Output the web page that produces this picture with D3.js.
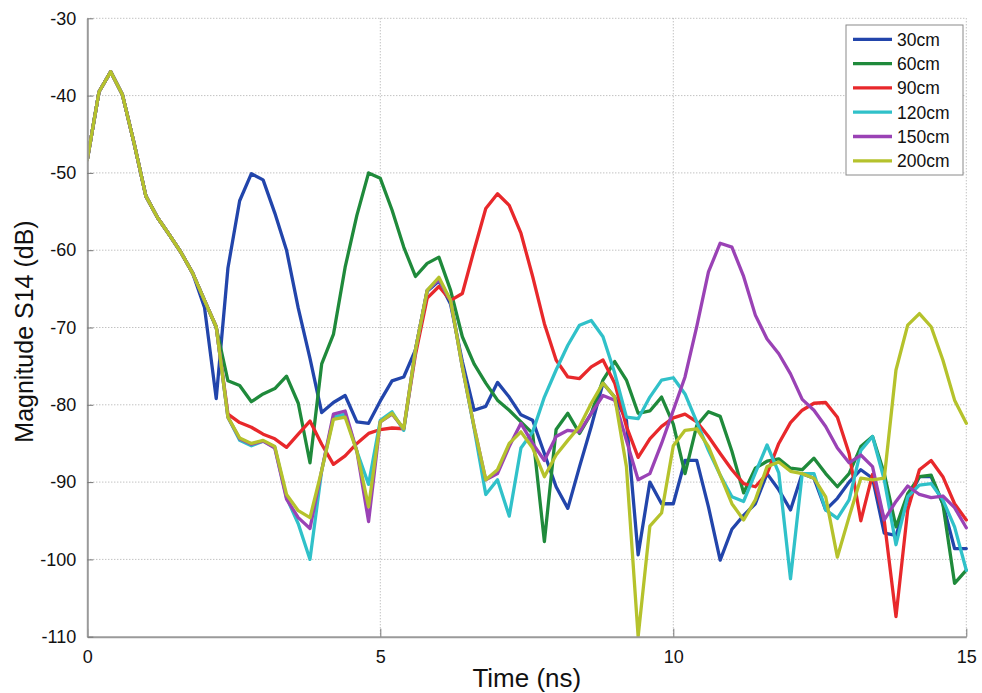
<!DOCTYPE html>
<html>
<head>
<meta charset="utf-8">
<script src="https://cdn.jsdelivr.net/npm/d3@7/dist/d3.min.js"></script>
<style>
  html, body { margin: 0; padding: 0; background: #fff; }
  svg { display: block; }
  text { font-family: "Liberation Sans", Arial, Helvetica, sans-serif; fill: #111; }
</style>
</head>
<body>
<svg id="chart" width="982" height="693"></svg>
<script>
// Sample times (ns)
const time = [
  0, 0.2, 0.4, 0.6, 0.8, 1.0, 1.2, 1.4, 1.6, 1.8,
  2.0, 2.2, 2.4, 2.6, 2.8, 3.0, 3.2, 3.4, 3.6, 3.8,
  4.0, 4.2, 4.4, 4.6, 4.8, 5.0, 5.2, 5.4, 5.6, 5.8,
  6.0, 6.2, 6.4, 6.6, 6.8, 7.0, 7.2, 7.4, 7.6, 7.8,
  8.0, 8.2, 8.4, 8.6, 8.8, 9.0, 9.2, 9.4, 9.6, 9.8,
  10.0, 10.2, 10.4, 10.6, 10.8, 11.0, 11.2, 11.4, 11.6, 11.8,
  12.0, 12.2, 12.4, 12.6, 12.8, 13.0, 13.2, 13.4, 13.6, 13.8,
  14.0, 14.2, 14.4, 14.6, 14.8, 15.0
];

// |S14| in dB for each separation distance
const s30 = [
  -48.3, -39.5, -36.9, -39.9, -46.2, -53, -55.8, -58, -60.3, -63,
  -67.4, -79.2, -62.3, -53.6, -50.1, -50.9, -55.2, -60, -67.5, -74,
  -81, -79.7, -78.8, -82.2, -82.4, -79.5, -76.9, -76.4, -72.9, -65.3,
  -64, -67, -74.4, -80.7, -80.2, -77.1, -79, -81.3, -82, -86.3,
  -90.6, -93.4, -88, -82.8, -77.2, -79, -82, -99.4, -90, -92.8,
  -92.8, -87.2, -87.2, -93.2, -100.1, -96.1, -94.3, -92.8, -88.9, -91,
  -93.6, -88.9, -89.5, -93.6, -92.1, -90, -88.4, -89.5, -96.6, -96.9,
  -92.3, -89.3, -89.3, -92.8, -98.6, -98.6
];
const s60 = [
  -48.3, -39.5, -36.9, -39.9, -46.2, -53, -55.8, -58, -60.3, -63,
  -66.5, -70, -76.9, -77.5, -79.6, -78.6, -77.9, -76.3, -79.8, -87.5,
  -74.7, -70.9, -62.2, -55.5, -50, -50.7, -54.8, -59.6, -63.4, -61.7,
  -60.9, -65.2, -71.2, -74.7, -77.2, -79.4, -80.7, -82.2, -83.7, -97.7,
  -83.2, -81.1, -83.7, -81.1, -76.8, -74.4, -76.8, -81.1, -80.8, -79,
  -82.5, -88.9, -82.7, -80.9, -81.5, -86, -91.4, -88.2, -87.3, -87,
  -88.2, -88.4, -86.9, -88.9, -90.6, -88.9, -85.4, -84.1, -88.9, -95.8,
  -91.5, -89.3, -89.1, -92.8, -103.1, -101.4
];
const s90 = [
  -48.3, -39.5, -36.9, -39.9, -46.2, -53, -55.8, -58, -60.3, -63,
  -66.5, -69.9, -81.2, -82.3, -82.9, -83.8, -84.4, -85.5, -83.8, -82.1,
  -85.1, -87.7, -86.6, -85, -83.7, -83.2, -83, -83.1, -73.5, -66.2,
  -64.7, -66.5, -65.6, -60, -54.6, -52.7, -54.2, -57.8, -63.4, -69.5,
  -74.2, -76.4, -76.6, -75.1, -74.2, -77.2, -82.8, -86.8, -84.4, -82.8,
  -81.7, -81.2, -82.2, -84.1, -86.3, -88.4, -90.2, -90.6, -88.9, -85,
  -82.3, -80.7, -79.8, -79.7, -81.6, -86.3, -95, -89, -95, -107.4,
  -93.6, -88.4, -87.2, -89.3, -92.8, -94.9
];
const s120 = [
  -48.3, -39.5, -36.9, -39.9, -46.2, -53, -55.8, -58, -60.3, -63,
  -66.5, -69.9, -81.6, -84.6, -85.3, -84.7, -85.5, -92, -95.4, -100,
  -88.5, -81.6, -81.2, -86, -90.3, -82, -80.9, -83.3, -72.9, -65.2,
  -63.8, -66.5, -75.1, -83, -91.6, -89.7, -94.4, -85.6, -83.5, -79,
  -75.5, -72.3, -69.7, -69.1, -71.2, -75.9, -81.6, -81.8, -79, -76.8,
  -76.5, -78.6, -82.2, -85.9, -89.1, -91.9, -92.5, -88.8, -85.2, -88.8,
  -102.5, -88.9, -88.9, -93.6, -94.7, -92.3, -85.9, -84.1, -89.7, -98.1,
  -91.9, -90.4, -90.2, -92.3, -95.8, -101.4
];
const s150 = [
  -48.3, -39.5, -36.9, -39.9, -46.2, -53, -55.8, -58, -60.3, -63,
  -66.5, -69.9, -81.6, -84.4, -85.1, -84.7, -85.6, -92.2, -94.6, -96,
  -88.5, -81.2, -80.8, -86, -95.1, -82.2, -81.2, -83.1, -72.9, -65.2,
  -63.8, -66.5, -75.1, -82.8, -89.7, -88.9, -85.4, -82.4, -85, -87.2,
  -84.1, -83.3, -83.5, -81.1, -78.8, -79.4, -84.6, -89.7, -88.9, -85,
  -80.7, -76.4, -69.9, -62.8, -59.1, -59.6, -63.4, -68.4, -71.5, -73.4,
  -76, -79.3, -80.7, -82.8, -85.6, -87.5, -86.5, -88, -94.9, -92.5,
  -90.5, -91.6, -92, -91.8, -93.3, -95.9
];
const s200 = [
  -48.3, -39.5, -36.9, -39.9, -46.2, -53, -55.8, -58, -60.3, -63,
  -66.5, -69.9, -81.6, -84.3, -85, -84.6, -85.4, -91.6, -93.7, -94.6,
  -88.5, -81.9, -81.6, -86, -93.2, -82.2, -81.1, -83.1, -72.9, -65.2,
  -63.5, -66.5, -75.1, -82.8, -89.7, -88.4, -85, -83.5, -85.6, -89.3,
  -86.5, -84.6, -82.8, -79.8, -77.2, -79, -88, -110, -95.7, -94,
  -85.3, -83.3, -83.1, -85.4, -89.1, -92.8, -94.9, -92.3, -88, -87.4,
  -88.6, -88.9, -89.5, -91.9, -99.7, -94.5, -89.5, -89.7, -89.5, -75.5,
  -69.7, -68.2, -69.9, -74.2, -79.4, -82.4
];

const seriesNames = ["30cm", "60cm", "90cm", "120cm", "150cm", "200cm"];
const seriesValues = [s30, s60, s90, s120, s150, s200];
const seriesColors = ["#2245ab", "#1f8a3b", "#e8282b", "#30c1c9", "#9a42b5", "#b5c22c"];

const xTicks = [0, 5, 10, 15];
const yTicks = [-110, -100, -90, -80, -70, -60, -50, -40, -30];

const plot = { left: 87.3, right: 966.3, top: 18.3, bottom: 636.7 };

const svg = d3.select("#chart");

const x = d3.scaleLinear().domain([0, 15]).range([plot.left, plot.right]);
const y = d3.scaleLinear().domain([-110, -30]).range([plot.bottom, plot.top]);

// dotted grid
const grid = svg.append("g").attr("class", "grid")
  .attr("stroke", "#a8a8a8").attr("stroke-width", 1).attr("stroke-dasharray", "1,2");
grid.selectAll("line.h").data(yTicks.filter(v => v > -110)).join("line")
  .attr("class", "h")
  .attr("x1", plot.left).attr("x2", plot.right)
  .attr("y1", d => y(d)).attr("y2", d => y(d));
grid.selectAll("line.v").data(xTicks.filter(v => v > 0)).join("line")
  .attr("class", "v")
  .attr("y1", plot.top).attr("y2", plot.bottom)
  .attr("x1", d => x(d)).attr("x2", d => x(d));

// curves
svg.append("defs").append("clipPath").attr("id", "plotClip")
  .append("rect")
  .attr("x", plot.left).attr("y", plot.top - 2)
  .attr("width", plot.right - plot.left + 2).attr("height", plot.bottom - plot.top + 3);

const line = d3.line()
  .x((d, i) => x(time[i]))
  .y(d => y(d));

svg.append("g").attr("clip-path", "url(#plotClip)")
  .selectAll("path").data(seriesValues).join("path")
  .attr("d", d => line(d))
  .attr("fill", "none")
  .attr("stroke", (d, i) => seriesColors[i])
  .attr("stroke-width", 3.3)
  .attr("stroke-linejoin", "round")
  .attr("stroke-linecap", "round");

// axes (left and bottom, ticks pointing inward); plain hyphen for negatives
const fmt = d => String(d);
const xAxis = d3.axisBottom(x).tickValues(xTicks).tickSizeInner(-8).tickSizeOuter(0).tickPadding(14)
  .tickFormat(fmt);
const yAxis = d3.axisLeft(y).tickValues(yTicks).tickSizeInner(-6).tickSizeOuter(0).tickPadding(11)
  .tickFormat(fmt);

const gx = svg.append("g").attr("transform", `translate(0,${plot.bottom})`).call(xAxis);
const gy = svg.append("g").attr("transform", `translate(${plot.left},0)`).call(yAxis);

[gx, gy].forEach(g => {
  g.select(".domain").attr("stroke", "#9a9a9a").attr("stroke-width", 2);
  g.selectAll(".tick line").attr("stroke", "#777").attr("stroke-width", 1);
  g.selectAll(".tick text")
    .attr("font-family", "'Liberation Sans', Arial, sans-serif")
    .attr("font-size", 18).attr("fill", "#111");
});
gx.selectAll(".tick text").attr("dy", "0.71em");

// axis titles
svg.append("text")
  .attr("x", (plot.left + plot.right) / 2).attr("y", 687)
  .attr("text-anchor", "middle").attr("font-size", 26)
  .text("Time (ns)");

svg.append("text")
  .attr("transform", `translate(33,${(plot.top + plot.bottom) / 2 + 4}) rotate(-90)`)
  .attr("text-anchor", "middle").attr("font-size", 25)
  .text("Magnitude S14 (dB)");

// legend
const legend = svg.append("g").attr("transform", "translate(846,25)");
legend.append("rect")
  .attr("width", 117).attr("height", 150)
  .attr("fill", "#fff").attr("stroke", "#8a8a8a").attr("stroke-width", 1);
const rows = legend.selectAll("g.row").data(seriesNames).join("g")
  .attr("class", "row")
  .attr("transform", (d, i) => `translate(0,${14.3 + i * 24.3})`);
rows.append("line")
  .attr("x1", 7).attr("x2", 46).attr("y1", 0).attr("y2", 0)
  .attr("stroke", (d, i) => seriesColors[i]).attr("stroke-width", 3.3);
rows.append("text")
  .attr("x", 51).attr("y", 0).attr("dy", "0.36em")
  .attr("font-size", 17.5)
  .text(d => d);
</script>
</body>
</html>
